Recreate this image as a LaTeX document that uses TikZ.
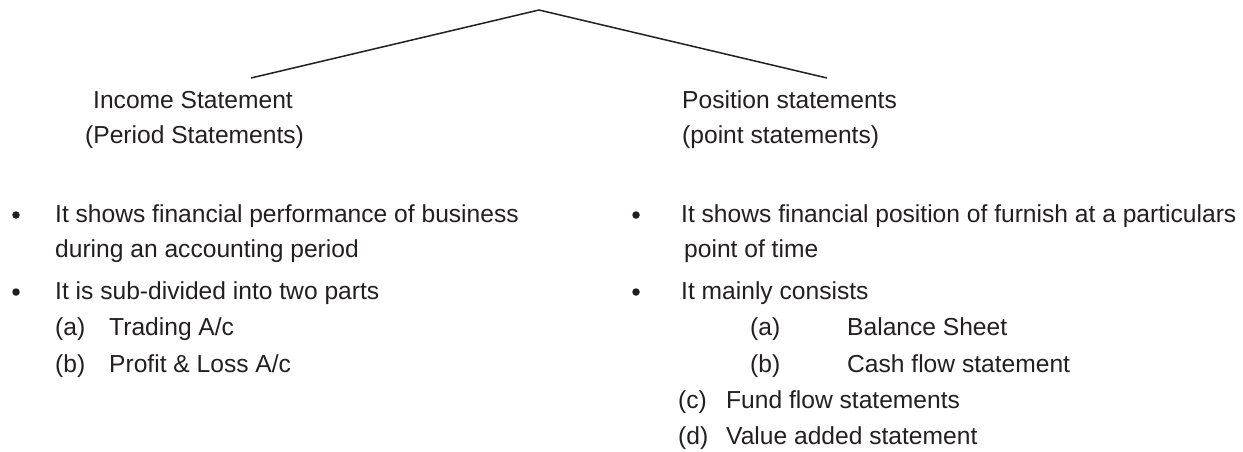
\documentclass[tikz,border=0pt]{standalone}
\usepackage{fontspec}
\setmainfont{Liberation Sans}
\usepackage{tikz}
\pgfdeclarelayer{edgelayer}
\pgfdeclarelayer{nodelayer}
\pgfsetlayers{edgelayer,nodelayer,main}
\definecolor{ink}{HTML}{231F20}
\tikzstyle{edge}=[draw=ink, line width=1.5pt]
\tikzstyle{entry}=[anchor=base west, inner sep=0pt, text=ink, font=\fontsize{24.6pt}{30pt}\selectfont]
\tikzstyle{bulletdot}=[circle, fill=ink, inner sep=0pt, minimum size=7.5pt]

\begin{document}
\begin{tikzpicture}[x=1pt, y=-1pt]
	\useasboundingbox (0, 0) rectangle (1243, 451);
	\begin{pgfonlayer}{nodelayer}
		\coordinate (top) at (539, 10);
		\coordinate (incend) at (251, 78);
		\coordinate (posend) at (827, 78);
		% left side
		\node [style=entry] (inc1) at (93, 108) {Income Statement};
		\node [style=entry] (inc2) at (85, 143) {(Period Statements)};
		\node [style=bulletdot] (ld1) at (16, 215) {};
		\node [style=entry] (l1) at (55, 222) {It shows financial performance of business};
		\node [style=entry] (l2) at (55, 257) {during an accounting period};
		\node [style=bulletdot] (ld2) at (16, 292) {};
		\node [style=entry] (l3) at (55, 299) {It is sub-divided into two parts};
		\node [style=entry] (la) at (55, 335) {(a)};
		\node [style=entry] (lat) at (109, 335) {Trading A/c};
		\node [style=entry] (lb) at (55, 372) {(b)};
		\node [style=entry] (lbt) at (109, 372) {Profit \& Loss A/c};
		% right side
		\node [style=entry] (pos1) at (682, 108) {Position statements};
		\node [style=entry] (pos2) at (682, 143) {(point statements)};
		\node [style=bulletdot] (rd1) at (636, 215) {};
		\node [style=entry] (r1) at (681, 222) {It shows financial position of furnish at a particulars};
		\node [style=entry] (r2) at (684, 257) {point of time};
		\node [style=bulletdot] (rd2) at (636, 292) {};
		\node [style=entry] (r3) at (681, 299) {It mainly consists};
		\node [style=entry] (ra) at (750, 335) {(a)};
		\node [style=entry] (rat) at (847, 335) {Balance Sheet};
		\node [style=entry] (rb) at (750, 372) {(b)};
		\node [style=entry] (rbt) at (847, 372) {Cash flow statement};
		\node [style=entry] (rc) at (678, 408) {(c)};
		\node [style=entry] (rct) at (726, 408) {Fund flow statements};
		\node [style=entry] (rd) at (678, 444) {(d)};
		\node [style=entry] (rdt) at (726, 444) {Value added statement};
	\end{pgfonlayer}
	\begin{pgfonlayer}{edgelayer}
		\draw [style=edge] (incend) to (top);
		\draw [style=edge] (top) to (posend);
	\end{pgfonlayer}
\end{tikzpicture}
\end{document}
